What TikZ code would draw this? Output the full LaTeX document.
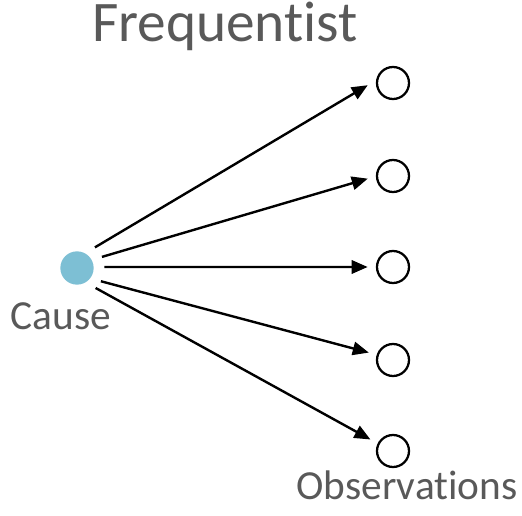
\documentclass[tikz,border=0pt]{standalone}
\usepackage{fontspec}
\setmainfont{Carlito}[Ligatures={NoCommon}]
\usepackage{tikz}
\usetikzlibrary{arrows.meta}
\definecolor{causeblue}{HTML}{7DBFD4}
\definecolor{labelgray}{HTML}{595959}

\begin{document}
\begin{tikzpicture}[
  x=0.75pt, y=-0.75pt,
  cause/.style={circle, fill=causeblue, minimum size=25pt, inner sep=0pt, outer sep=8pt},
  obs/.style={circle, draw, line width=1.7pt, minimum size=24pt, inner sep=0pt, outer sep=7pt},
  lbl/.style={text=labelgray, font=\fontsize{31}{36}\selectfont, anchor=base},
  arr/.style={-{Triangle[length=12pt, width=10pt]}, line width=1.8pt}
]
\useasboundingbox (0,0) rectangle (522,516);

\node[lbl, font=\fontsize{43}{48}\selectfont] (title) at (225,42) {Frequentist};

\node[cause] (cause) at (77,268) {};
\node[lbl] (causelbl) at (61,330) {Cause};

\node[obs] (o1) at (393,83) {};
\node[obs] (o2) at (393,176) {};
\node[obs] (o3) at (393,267) {};
\node[obs] (o4) at (393,360) {};
\node[obs] (o5) at (393,451) {};
\node[lbl] (obslbl) at (407,500) {Observations};

\draw[arr] (cause.49) -- (o1.185);
\draw[arr] (cause.24) -- (o2.186);
\draw[arr] (cause.2) -- (o3.180);
\draw[arr] (cause.-29) -- (o4.163);
\draw[arr] (cause.-47) -- (o5.153);

\end{tikzpicture}
\end{document}
